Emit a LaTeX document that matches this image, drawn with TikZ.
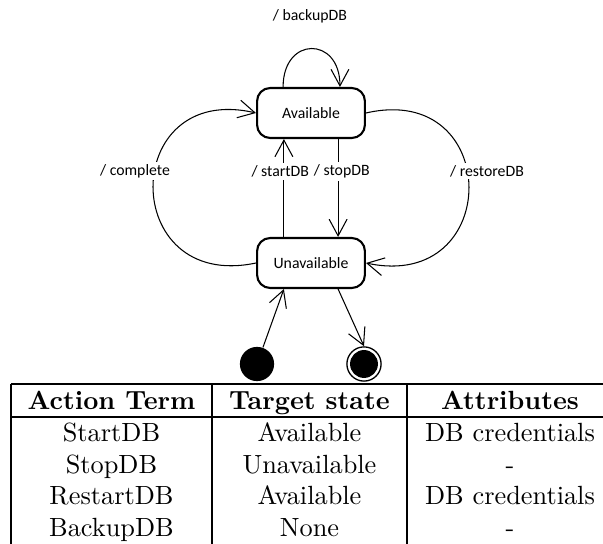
\documentclass[tikz,border=0pt]{standalone}
\usepackage{fontspec}
\newfontfamily\umlfont{Carlito}
\usetikzlibrary{arrows.meta,positioning}

\begin{document}
\begin{tikzpicture}[x=0.38pt,y=0.38pt,
  statebox/.style={rectangle,rounded corners=5pt,draw=black,thick,minimum width=41pt,minimum height=19pt,font=\umlfont\fontsize{6}{7}\selectfont},
  trans/.style={thin,-{Straight Barb[length=6.3pt,width=6.8pt]}},
  lbl/.style={fill=white,inner sep=1pt,font=\umlfont\fontsize{6}{7}\selectfont},
  cell/.style={anchor=base,inner sep=0pt}]

\useasboundingbox (0,0) rectangle (603,544);

\node[statebox] (avail) at (311,431) {Available};
\node[statebox] (unav) at (311,281) {Unavailable};
\node[circle,fill=black,minimum size=13pt,inner sep=0pt] (init) at (257,180) {};
\node[circle,draw=black,line width=0.5pt,minimum size=13pt,inner sep=0pt] (fin) at (364,180) {};
\fill (fin.center) circle (5.3pt);

\draw[trans] ([xshift=-10.3pt]unav.north) -- node[lbl,pos=0.67,xshift=-1.4pt] (lstart) {/ startDB} ([xshift=-10.3pt]avail.south);
\draw[trans] ([xshift=10.3pt]avail.south) -- node[lbl,pos=0.33,xshift=1.4pt] (lstop) {/ stopDB} ([xshift=10.3pt]unav.north);
\draw[trans] (unav.west) to[out=192,in=167,looseness=2.4] (avail.west);
\draw[trans] (avail.east) to[out=13,in=-12,looseness=2.4] (unav.east);
\node[lbl] (lcomplete) at (135,373) {/ complete};
\node[lbl] (lrestore) at (487,373) {/ restoreDB};
\draw[trans] ([xshift=-10.6pt]avail.north) to[out=90,in=90,looseness=2.3] ([xshift=11pt]avail.north);
\node[lbl] (lbackup) at (310,528) {/ backupDB};
\draw[trans] (init) -- ([xshift=-10.3pt]unav.south);
\draw[trans] ([xshift=10.3pt]unav.south) -- (fin.north);

% table
\draw (11,160) -- (603,160);
\draw (11,127) -- (603,127);
\draw (11,160) -- (11,0);
\draw (212,160) -- (212,0);
\draw (407,160) -- (407,0);

\node[cell] (hact) at (111.5,134) {\bfseries Action Term};
\node[cell] (htarget) at (309.5,134) {\bfseries Target state};
\node[cell] (hattr) at (510,134) {\bfseries Attributes};

\node[cell] (act1) at (111.5,102) {StartDB};
\node[cell] (target1) at (309.5,102) {Available};
\node[cell] (attr1) at (510,102) {DB credentials};

\node[cell] (act2) at (111.5,70) {StopDB};
\node[cell] (target2) at (309.5,70) {Unavailable};
\node[cell] (attr2) at (510,70) {-};

\node[cell] (act3) at (111.5,39) {RestartDB};
\node[cell] (target3) at (309.5,39) {Available};
\node[cell] (attr3) at (510,39) {DB credentials};

\node[cell] (act4) at (111.5,7) {BackupDB};
\node[cell] (target4) at (309.5,7) {None};
\node[cell] (attr4) at (510,7) {-};

\end{tikzpicture}
\end{document}
